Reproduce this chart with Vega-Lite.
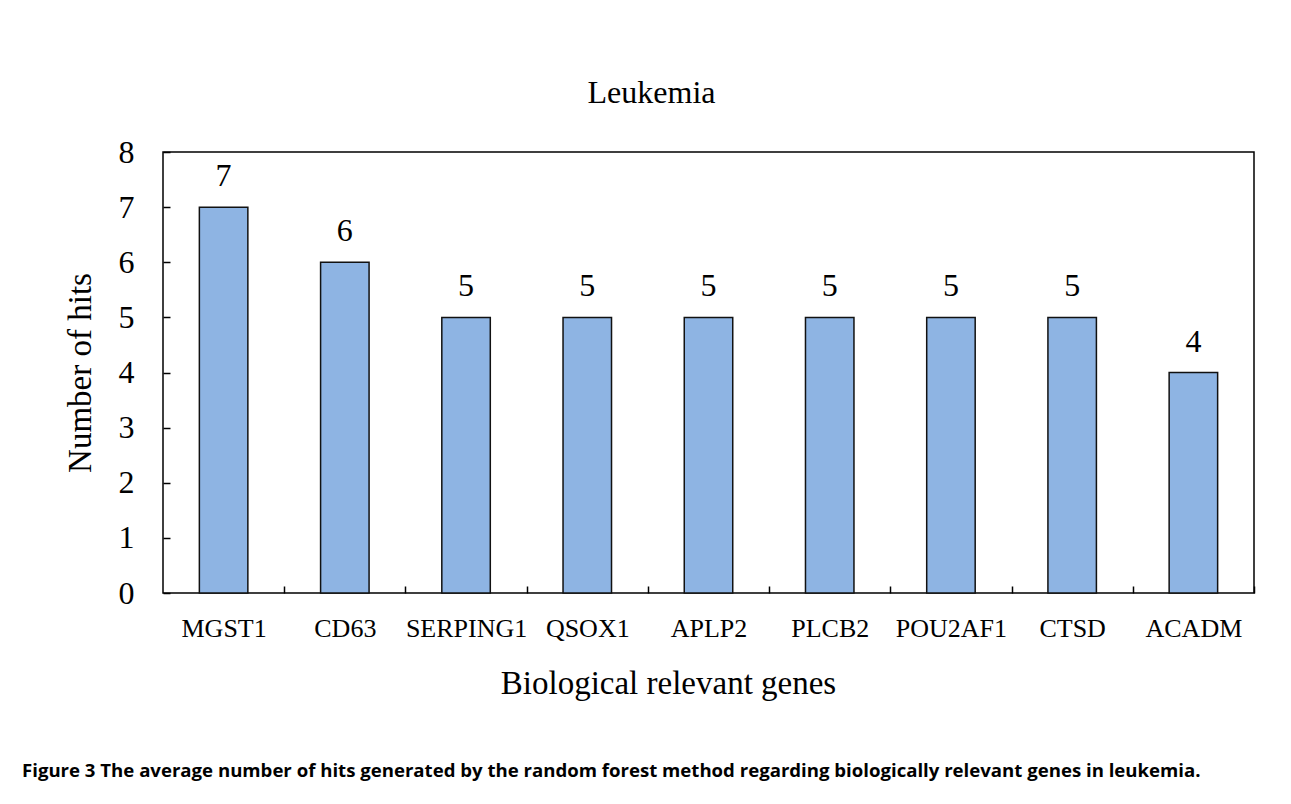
{
  "$schema": "https://vega.github.io/schema/vega-lite/v6.json",
  "width": 1091,
  "height": 441,
  "autosize": {"type": "none"},
  "padding": {"left": 163, "top": 152, "right": 37, "bottom": 211},
  "background": "white",
  "config": {
    "view": {"stroke": "black", "strokeWidth": 1.5},
    "axis": {"labelColor": "black", "titleColor": "black", "tickColor": "black", "labelFont": "Liberation Serif", "titleFont": "Liberation Serif", "titleFontWeight": "normal", "grid": false, "domain": false}
  },
  "title": {
    "text": "Figure 3 The average number of hits generated by the random forest method regarding biologically relevant genes in leukemia.",
    "orient": "bottom",
    "anchor": "start",
    "frame": "group",
    "dx": -141,
    "offset": 77,
    "baseline": "alphabetic",
    "font": "Open Sans",
    "fontSize": 18.6,
    "fontWeight": "bold",
    "color": "black"
  },
  "data": {
    "values": [
      {"gene": "MGST1", "hits": 7},
      {"gene": "CD63", "hits": 6},
      {"gene": "SERPING1", "hits": 5},
      {"gene": "QSOX1", "hits": 5},
      {"gene": "APLP2", "hits": 5},
      {"gene": "PLCB2", "hits": 5},
      {"gene": "POU2AF1", "hits": 5},
      {"gene": "CTSD", "hits": 5},
      {"gene": "ACADM", "hits": 4}
    ]
  },
  "layer": [
    {
      "mark": {"type": "bar", "fill": "#8eb4e3", "stroke": "#111111", "strokeWidth": 1.5},
      "encoding": {
        "x": {
          "field": "gene", "type": "nominal", "sort": null,
          "scale": {"paddingInner": 0.6, "paddingOuter": 0.3},
          "axis": {
            "orient": "bottom", "labelAngle": 0, "labelFontSize": 26, "labelPadding": 29,
            "tickSize": -7, "tickWidth": 1.5, "tickOffset": 60.6, "labelOffset": -60.6,
            "title": "Biological relevant genes", "titleFontSize": 33, "titleX": 505, "titlePadding": 26
          }
        },
        "y": {
          "field": "hits", "type": "quantitative",
          "scale": {"domain": [0, 8], "nice": false},
          "axis": {
            "values": [0, 1, 2, 3, 4, 5, 6, 7, 8], "format": "d", "labelFontSize": 32, "labelPadding": 36,
            "tickSize": -7, "tickWidth": 1.5,
            "title": "Number of hits", "titleFontSize": 33, "titlePadding": 21
          }
        }
      }
    },
    {
      "mark": {"type": "text", "font": "Liberation Serif", "fontSize": 32, "baseline": "alphabetic", "dy": -21, "color": "black"},
      "encoding": {
        "x": {
          "field": "gene", "type": "nominal", "sort": null,
          "scale": {"paddingInner": 0.6, "paddingOuter": 0.3},
          "axis": {
            "orient": "top", "labels": false, "ticks": false, "domain": false,
            "title": "Leukemia", "titleFontSize": 32, "titleX": 488, "titlePadding": 43
          }
        },
        "y": {"field": "hits", "type": "quantitative"},
        "text": {"field": "hits", "type": "quantitative"}
      }
    }
  ],
  "resolve": {"scale": {"x": "independent"}}
}
